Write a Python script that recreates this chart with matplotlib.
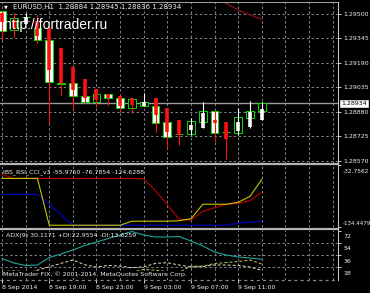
import matplotlib
matplotlib.use("Agg")
import matplotlib.pyplot as plt
import matplotlib.transforms as mtransforms
from matplotlib.lines import Line2D

W, H, DPI = 370, 293, 100

# ---------------- data ----------------
bars = list(range(23))
candle_open = [1.29519, 1.29399, 1.29481, 1.29411, 1.29335, 1.29063, 1.29063, 1.28981, 1.28943, 1.28994,
               1.28968, 1.28905, 1.28918, 1.28918, 1.28816, 1.28743, 1.28740, 1.28816, 1.28886, 1.28753,
               1.28747, 1.28842, 1.28884]
candle_high = [1.29519, 1.29506, 1.29506, 1.29494, 1.29411, 1.29082, 1.29070, 1.28994, 1.29006, 1.28994,
               1.28987, 1.28968, 1.29000, 1.28930, 1.28829, 1.28778, 1.28842, 1.28943, 1.28892, 1.28797,
               1.28905, 1.28949, 1.28945]
candle_low = [1.29335, 1.29354, 1.29449, 1.29316, 1.28810, 1.28987, 1.28899, 1.28937, 1.28911, 1.28924,
              1.28880, 1.28873, 1.28918, 1.28753, 1.28652, 1.28671, 1.28734, 1.28804, 1.28696, 1.28582,
              1.28734, 1.28829, 1.28836]
candle_close = [1.29392, 1.29475, 1.29478, 1.29335, 1.29070, 1.29060, 1.28981, 1.28943, 1.28994, 1.28968,
                1.28905, 1.28962, 1.28943, 1.28810, 1.28721, 1.28740, 1.28823, 1.28886, 1.28747, 1.28750,
                1.28848, 1.28886, 1.28934]

ha_open = [1.29506, 1.29462, 1.29437, 1.29456, 1.29411, 1.29285, 1.29165, 1.29089, 1.29025, 1.28994,
           1.28981, 1.28968, 1.28918, 1.28968, 1.28905, 1.28829, 1.28766, 1.28778, 1.28829, 1.28816,
           1.28759, 1.28785, 1.28829]
ha_close = [1.29449, 1.29411, 1.29478, 1.29361, 1.29146, 1.29063, 1.29019, 1.28968, 1.28956, 1.28968,
            1.28918, 1.28924, 1.28943, 1.28861, 1.28753, 1.28734, 1.28797, 1.28873, 1.28810, 1.28709,
            1.28816, 1.28880, 1.28899]
ha_high = [1.29519, 1.29506, 1.29506, 1.29494, 1.29411, 1.29285, 1.29165, 1.29089, 1.29025, 1.28994,
           1.28987, 1.28968, 1.29000, 1.28968, 1.28905, 1.28829, 1.28842, 1.28943, 1.28892, 1.28816,
           1.28905, 1.28949, 1.28943]
ha_low = [1.29335, 1.29354, 1.29437, 1.29316, 1.28810, 1.28987, 1.28899, 1.28937, 1.28911, 1.28924,
          1.28880, 1.28873, 1.28918, 1.28753, 1.28652, 1.28671, 1.28734, 1.28778, 1.28696, 1.28582,
          1.28734, 1.28778, 1.28829]

upper_line_bars = [17, 18, 19, 20, 21, 22]
upper_line = [1.29646, 1.29606, 1.29566, 1.29525, 1.29495, 1.29465]

price_ticks = [1.28570, 1.28725, 1.28880, 1.29035, 1.29190, 1.29345, 1.29500]
bid_price = 1.28934

ibs_red = [-47.8, -54.4, -54.4, -54.4, -54.4, -54.4, -54.4, -54.4, -54.4, -54.4, -54.4, -54.4,
           -55.2, -74.8, -97.8, -121.0, -123.0, -108.3, -102.6, -96.8, -95.2, -91.1, -76.7854]
ibs_yellow = [-54.4, -54.4, -54.4, -54.4, -131.2, -131.2, -131.2, -131.2, -131.2, -131.2, -131.2,
              -124.6, -124.6, -124.6, -124.6, -123.8, -120.6, -96.8, -96.8, -96.8, -93.6, -83.8, -55.976]
ibs_blue = [-80.5, -80.5, -80.5, -80.5, -97.3, -114.0, -131.2, -131.2, -131.2, -131.2, -131.2, -131.2,
            -131.2, -131.2, -131.2, -131.2, -131.2, -131.2, -131.2, -131.2, -127.9, -126.3, -124.6288]
ibs_max, ibs_min = -32.7562, -134.4479

adx_main = [31.2, 24.6, 20.9, 21.6, 32.6, 37.8, 43.7, 50.3, 55.4, 60.6, 65.7, 70.9, 65.7, 62.8, 62.8,
            63.5, 56.9, 49.6, 40.7, 36.3, 33.4, 31.9, 30.1171]
adx_plus = [12, 13, 12, 10, 8, 7, 6, 6, 8, 9, 10, 11, 15, 14, 12, 11, 20, 20, 23.8, 25.3, 26.8, 29, 22.9554]
adx_minus = [10, 9, 9, 14, 19, 24, 29, 22, 18.7, 21, 20, 17.5, 19, 24, 25, 21.6, 18.7, 19.4, 21.6, 21.6,
             20.9, 18.7, 13.6259]
adx_levels = [18, 36, 54, 72]

time_ticks = [0, 4, 8, 12, 16, 20]
time_labels = ["8 Sep 2014", "8 Sep 19:00", "8 Sep 23:00", "9 Sep 03:00", "9 Sep 07:00", "9 Sep 11:00"]

# ---------------- styles ----------------
BG = "black"
GRID = "#7d8693"
AXC = "#c8c8c8"
TXT = "#f0f0f0"
SMALL = 4.5
FONT = "DejaVu Sans"
px = 72.0 / DPI  # points per pixel

fig = plt.figure(figsize=(W / DPI, H / DPI), dpi=DPI, facecolor=BG)


def rect(l, t, r, b):
    return [l / W, 1 - b / H, (r - l) / W, (b - t) / H]


def fx(x):
    return x / W


def fy(y):
    return 1 - y / H


XLIM = (-0.17, 28.45)
grid_x = list(range(0, 29, 2))


def base_axes(r):
    a = fig.add_axes(r, facecolor=BG)
    a.set_xlim(*XLIM)
    for s in a.spines.values():
        s.set_visible(False)
    a.tick_params(colors=TXT, labelsize=SMALL, length=2.5, width=0.6, pad=1.5)
    a.vlines(grid_x, 0, 1, transform=a.get_xaxis_transform(), colors=GRID,
             linestyles=(0, (2.5, 2.5)), linewidth=0.7, zorder=0)
    a.set_xticks([])
    return a


# ---------------- main price panel ----------------
ax = base_axes(rect(0, 2, 338, 163.5))
ax.set_ylim(1.285537, 1.295760)
ax.hlines(price_ticks, XLIM[0], XLIM[1], colors=GRID, linestyles=(0, (2.5, 2.5)), linewidth=0.7, zorder=0)
ax.axhline(bid_price, color="#9a9a9a", linewidth=1.4 * px, zorder=1)

LIME = "#00dd00"
for i in bars:
    o, h, l, c = candle_open[i], candle_high[i], candle_low[i], candle_close[i]
    ax.vlines(i, l, h, colors=LIME, linewidth=1 * px, zorder=2)
    fill = "white" if c < o else "black"
    ax.bar(i, max(abs(c - o), 1e-7), bottom=min(o, c), width=0.66, color=fill,
           edgecolor=LIME, linewidth=1 * px, zorder=3)
for i in bars:
    col = "#ff1010" if ha_close[i] < ha_open[i] else "white"
    ax.vlines(i, ha_low[i], ha_high[i], colors=col, linewidth=1.1 * px, zorder=4)
    ax.vlines(i, ha_open[i], ha_close[i], colors=col, linewidth=3.6 * px, zorder=5)

ax.plot(upper_line_bars, upper_line, color="#a01010", linewidth=1.1 * px, zorder=4)

ax.yaxis.tick_right()
ax.set_yticks(price_ticks)
ax.set_yticklabels([f"{p:.5f}" for p in price_ticks], fontfamily=FONT)
bt = ax.text(1.0 + 3.0 / 338, bid_price, "1.28934",
             transform=mtransforms.blended_transform_factory(ax.transAxes, ax.transData),
             ha="left", va="center", fontsize=SMALL, fontfamily=FONT, color="black",
             bbox=dict(boxstyle="square,pad=0.18", fc="white", ec="white", lw=0.4), zorder=10, clip_on=False)

# ---------------- IBS_RSI_CCI panel ----------------
ax2 = base_axes(rect(0, 165.2, 338, 227.2))
ax2.set_ylim(ibs_min, ibs_max)
ax2.plot(bars, ibs_blue, color="#0000d0", linewidth=1.1 * px, zorder=3)
ax2.plot(bars, ibs_red, color="#c00000", linewidth=1.1 * px, zorder=4)
ax2.plot(bars, ibs_yellow, color="#c8c800", linewidth=1.1 * px, zorder=5)
ax2.yaxis.tick_right()
ax2.set_yticks([ibs_max, ibs_min])
ax2.set_yticklabels([f"{ibs_max:.4f}", f"{ibs_min:.4f}"], fontfamily=FONT)
ax2.tick_params(axis="y", pad=1.0)
lab = ax2.get_yticklabels()
lab[0].set_fontsize(4.2)
lab[1].set_fontsize(3.95)
lab[0].set_transform(lab[0].get_transform() + mtransforms.ScaledTranslation(0, -6 / DPI, fig.dpi_scale_trans))
lab[1].set_transform(lab[1].get_transform() + mtransforms.ScaledTranslation(0, 4 / DPI, fig.dpi_scale_trans))

# ---------------- ADX panel ----------------
ax3 = base_axes(rect(0, 229.8, 338, 280))
ax3.set_ylim(-0.44, 73.4)
ax3.hlines(adx_levels[:3], XLIM[0], XLIM[1], colors=GRID, linestyles=(0, (2.5, 2.5)), linewidth=0.7, zorder=0)
ax3.axhline(-0.44, color=GRID, linestyle=(0, (2.5, 2.5)), linewidth=0.9, zorder=0, clip_on=False)
ax3.plot(bars, adx_plus, color="#b9c45a", linewidth=1 * px, linestyle=(0, (3, 2)), zorder=3)
ax3.plot(bars, adx_minus, color="#e8d8b0", linewidth=1 * px, linestyle=(0, (3, 2)), zorder=3)
ax3.plot(bars, adx_main, color="#20a898", linewidth=1.1 * px, zorder=4)
ax3.yaxis.tick_right()
ax3.set_yticks(adx_levels)
ax3.set_yticklabels([str(v) for v in adx_levels], fontfamily=FONT)
for t in ax3.get_yticklabels():
    t.set_transform(t.get_transform() + mtransforms.ScaledTranslation(0, -5.5 / DPI, fig.dpi_scale_trans))
ax3.set_xticks(time_ticks)
ax3.set_xticklabels(time_labels, fontfamily=FONT, ha="left")
ax3.tick_params(axis="x", length=2, pad=1.5)

# ---------------- frame lines ----------------
for y in (164.2, 228.6):
    fig.add_artist(Line2D([0, fx(338)], [fy(y), fy(y)], color="#b4b4b4", linewidth=2.2 * px))
fig.add_artist(Line2D([0, fx(338)], [fy(2), fy(2)], color="#a0a0a0", linewidth=1 * px))
fig.add_artist(Line2D([fx(338), fx(338)], [fy(2), fy(280)], color=AXC, linewidth=1 * px))

# ---------------- texts ----------------
fig.text(fx(4), fy(7.2), "\u25bc", fontsize=3.6, color=TXT, fontfamily=FONT, va="center", ha="left")
fig.text(fx(13), fy(7.2), "EURUSD,H1  1.28884 1.28945 1.28836 1.28934", fontsize=5.0,
         color=TXT, fontfamily=FONT, va="center", ha="left")
fig.text(fx(4), fy(29.5), "http://fortrader.ru", fontsize=10, color="white",
         fontfamily="Liberation Sans", va="baseline", ha="left", zorder=20)
fig.text(fx(3), fy(172), "IBS_RSI_CCI_v3 -55.9760 -76.7854 -124.6288", fontsize=SMALL,
         color=TXT, fontfamily=FONT, va="center", ha="left")
fig.text(fx(6), fy(236), "ADX(9) 30.1171 +DI:22.9554 -DI:13.6259", fontsize=SMALL,
         color=TXT, fontfamily=FONT, va="center", ha="left")
fig.text(fx(3), fy(274.5), "MetaTrader FIX, \u00a9 2001-2014, MetaQuotes Software Corp.", fontsize=SMALL,
         color=TXT, fontfamily=FONT, va="center", ha="left",
         bbox=dict(boxstyle="square,pad=0.05", fc="black", ec="none"), zorder=20)

fig.savefig("out.png", dpi=DPI, facecolor=BG)
